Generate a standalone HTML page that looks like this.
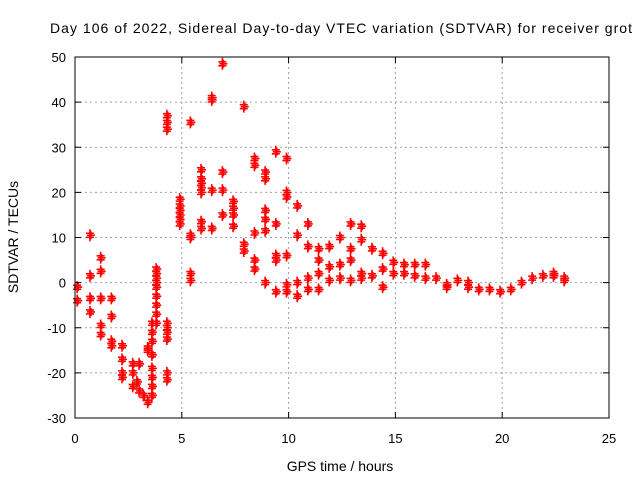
<!DOCTYPE html>
<html><head><meta charset="utf-8"><style>
body{margin:0;background:#fff;overflow:hidden;}
svg text{font-family:"Liberation Sans",sans-serif;font-size:13px;fill:#000;}
</style></head><body>
<svg width="640" height="480">
<text x="50" y="33" textLength="582" lengthAdjust="spacing" style="font-size:14px">Day 106 of 2022, Sidereal Day-to-day VTEC variation (SDTVAR) for receiver grot</text>
<g id="grid"></g>
<g id="marks"></g>
<rect x="75" y="57" width="534" height="361" fill="none" stroke="#000"/>
<g id="ticks"></g>
<text x="340" y="471" text-anchor="middle" style="font-size:14px">GPS time / hours</text>
<text transform="translate(18,237) rotate(-90)" text-anchor="middle" style="font-size:14px">SDTVAR / TECUs</text>
</svg>
<script>
const xTicks=[0,5,10,15,20,25];
const yTicks=[-30,-20,-10,0,10,20,30,40,50];
const hours=[0.1,0.1,0.7,0.7,0.7,0.7,1.2,1.2,1.2,1.2,1.2,1.7,1.7,1.7,1.7,2.2,2.2,2.2,2.2,2.7,2.7,2.7,2.9,3.0,3.0,3.2,3.4,3.4,3.4,
3.6,3.6,3.6,3.6,3.6,3.6,3.6,3.6,3.8,3.8,3.8,3.8,3.8,3.8,3.8,3.8,3.8,4.3,4.3,4.3,4.3,4.3,4.3,4.3,4.3,4.3,
4.9,4.9,4.9,4.9,4.9,4.9,5.4,5.4,5.4,5.4,5.4,5.9,5.9,5.9,5.9,5.9,5.9,5.9,6.4,6.4,6.4,6.4,6.9,6.9,6.9,6.9,7.4,7.4,7.4,7.4,7.9,7.9,7.9,
8.4,8.4,8.4,8.4,8.4,8.9,8.9,8.9,8.9,8.9,8.9,9.4,9.4,9.4,9.4,9.4,9.9,9.9,9.9,9.9,9.9,9.9,10.4,10.4,10.4,10.4,10.9,10.9,10.9,10.9,
11.4,11.4,11.4,11.4,11.9,11.9,11.9,12.4,12.4,12.4,12.9,12.9,12.9,12.9,13.4,13.4,13.4,13.4,13.9,13.9,14.4,14.4,14.4,14.9,14.9,
15.4,15.4,15.9,15.9,16.4,16.4,16.9,17.4,17.4,17.9,18.4,18.4,18.9,19.4,19.9,20.4,20.9,21.4,21.9,22.4,22.4,22.9,22.9];
const sdtvar=[-1,-4,10.5,1.5,-3.5,-6.5,5.5,2.5,-3.5,-9.5,-11.5,-3.5,-7.5,-13,-14,-14,-17,-20,-21,-18,-20,-23,-22,-24,-18,-25,-26.5,-15,-14.5,
-25,-23,-21,-19,-16,-13,-11,-9,-9,-7,-5,-3,-1,0,1,2,3,-20,-21.5,-9,-10,-11,-12.5,34,35.5,37,
13,14,15,16,17,18.5,35.5,10.5,10,2,0.5,20,21,22,23,25,12,13.5,40.5,41,20.5,12,48.5,24.5,20.5,15,18,16.5,15,12.5,39,8.5,7,
27.5,26,11,5,3,24.5,23,16,14,11.5,0,29,13,6,5,-2,27.5,20,19,6,-0.5,-2,17,10.5,0,-3,13,8,1,-1.5,
7.5,5,2,-1.5,8,3.5,0.5,10,4,1,13,7.5,5,0.5,12.5,9.5,2,1,7.5,1.5,6.5,3,-1,4.5,2,
4,2,4,1.5,4,1,1,-0.5,-1,0.5,0,-1,-1.5,-1.5,-2,-1.5,0,1,1.5,2,1.5,1,0.5];
const NS="http://www.w3.org/2000/svg";
function xs(v){return 75+(v-0)*534/25;}
function ys(v){return 418-(v+30)*361/80;}
function mk(t,a,p){const e=document.createElementNS(NS,t);for(const k in a)e.setAttribute(k,a[k]);p.appendChild(e);return e;}
const grid=document.getElementById('grid'),tk=document.getElementById('ticks'),mg=document.getElementById('marks');
xTicks.forEach(v=>{const x=xs(v);
 if(v>0&&v<25){const l=mk('line',{x1:x,x2:x,y1:57,y2:418,stroke:'#a0a0a0','stroke-dasharray':'2,3'},grid);
 
 }
 mk('line',{x1:x,x2:x,y1:418,y2:412,stroke:'#000'},tk);mk('line',{x1:x,x2:x,y1:57,y2:63,stroke:'#000'},tk);
 const t=mk('text',{x:x,y:443,'text-anchor':'middle'},tk);t.textContent=v;
 
 });
yTicks.forEach(v=>{const y=ys(v);
 if(v>-30&&v<50){const l=mk('line',{x1:75,x2:609,y1:y,y2:y,stroke:'#a0a0a0','stroke-dasharray':'2,3'},grid);
 
 }
 mk('line',{x1:75,x2:81,y1:y,y2:y,stroke:'#000'},tk);mk('line',{x1:609,x2:603,y1:y,y2:y,stroke:'#000'},tk);
 const t=mk('text',{x:66,y:y+5,'text-anchor':'end'},tk);t.textContent=v;
 
 });
hours.forEach((h,i)=>{const x=xs(h),y=ys(sdtvar[i]);
 const g=mk('g',{},mg);
 
 
 [[0,-2],[1,0],[0,2]].forEach(o=>{
  mk('path',{d:`M${x+o[0]-4},${y+o[1]}h8M${x+o[0]},${y+o[1]-4}v8`,stroke:'#f00','stroke-width':1.6},g);});});
</script>
</body></html>
